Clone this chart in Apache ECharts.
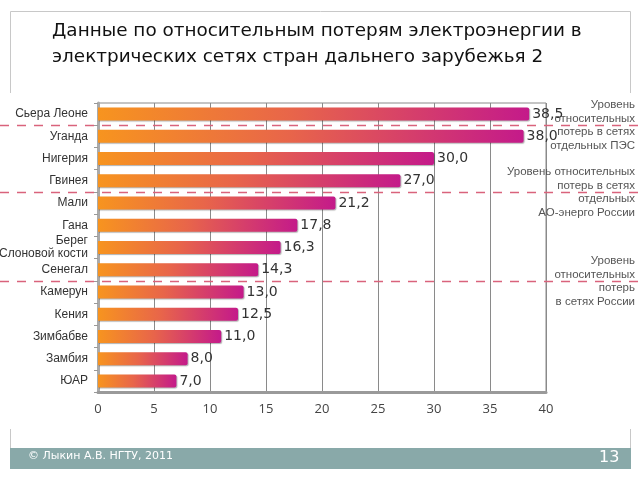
<!DOCTYPE html>
<html><head><meta charset="utf-8">
<script src="https://cdn.jsdelivr.net/npm/echarts@6/dist/echarts.min.js"></script>
<style>html,body{margin:0;padding:0;background:#fff}#c{width:640px;height:480px}</style>
</head><body><div id="c"></div>
<script>
const titleLines = ['Данные по относительным потерям электроэнергии в', 'электрических сетях стран дальнего зарубежья 2'];
const countries = ['Сьера Леоне','Уганда','Нигерия','Гвинея','Мали','Гана','Берег\nСлоновой кости','Сенегал','Камерун','Кения','Зимбабве','Замбия','ЮАР'];
const losses = [38.5, 38.0, 30.0, 27.0, 21.2, 17.8, 16.3, 14.3, 13.0, 12.5, 11.0, 8.0, 7.0];
const xTicks = [0, 5, 10, 15, 20, 25, 30, 35, 40];
const dividerAfter = ['Сьера Леоне', 'Гвинея', 'Сенегал'];
const notes = [
  'Уровень\nотносительных\nпотерь в сетях\nотдельных ПЭС',
  'Уровень относительных\nпотерь в сетях\nотдельных\nАО-энерго России',
  'Уровень\nотносительных\nпотерь\nв сетях России'
];
const footerText = '© Лыкин А.В. НГТУ, 2011';
const pageNo = '13';

const chart = echarts.init(document.getElementById('c'), null, {renderer: 'canvas'});
const option = {
  animation: false,
  backgroundColor: '#ffffff',
  grid: {left: 98, right: 94, top: 103, bottom: 88, containLabel: false, outerBoundsMode: 'none',
         show: true, borderColor: '#8a8a8a', borderWidth: 1, backgroundColor: 'transparent'},
  xAxis: {
    type: 'value', min: xTicks[0], max: xTicks[xTicks.length - 1], interval: xTicks[1] - xTicks[0],
    axisLine: {show: true, lineStyle: {color: '#9a9a9a', width: 3}},
    axisTick: {show: false},
    axisLabel: {color: '#444', fontSize: 13, fontFamily: 'Open Sans', margin: 11},
    splitLine: {show: true, lineStyle: {color: '#8a8a8a', width: 1}}
  },
  yAxis: {
    type: 'category', data: countries, inverse: true,
    axisLine: {show: true, lineStyle: {color: '#aaa', width: 3}},
    axisTick: {show: true, length: 4, lineStyle: {color: '#999'}},
    axisLabel: {color: '#333', fontSize: 12, fontFamily: 'Liberation Sans', margin: 10, lineHeight: 13}
  },
  series: [{
    type: 'bar', data: losses, barWidth: 13,
    itemStyle: {
      color: new echarts.graphic.LinearGradient(0, 0, 1, 0, [
        {offset: 0, color: '#f7941f'},
        {offset: 0.45, color: '#e8654a'},
        {offset: 1, color: '#c41a8a'}
      ]),
      borderRadius: [0, 2, 2, 0],
      shadowColor: 'rgba(0,0,0,0.3)', shadowOffsetX: 1, shadowOffsetY: 1, shadowBlur: 1
    },
    label: {
      show: true, position: 'right', distance: 3, color: '#333', fontSize: 14, fontFamily: 'DejaVu Sans',
      formatter: p => p.value.toFixed(1).replace('.', ',')
    }
  }]
};
chart.setOption(option);

function buildGraphics() {
  const g = [];
  g.push({type: 'rect', z: -10, shape: {x: 10.5, y: 11.5, width: 620, height: 440}, style: {fill: '#fff', stroke: '#c8c8c8', lineWidth: 1}, silent: true});
  g.push({type: 'rect', z: -9, shape: {x: 0, y: 93, width: 640, height: 336}, style: {fill: '#fff'}, silent: true});
  g.push({type: 'text', left: 52, top: 18, style: {text: titleLines.join('\n'), fill: '#111', font: '18.4px "DejaVu Sans"', lineHeight: 26}});
  g.push({type: 'rect', shape: {x: 10, y: 448, width: 621, height: 21}, style: {fill: '#89a9a9'}, silent: true});
  g.push({type: 'text', left: 28, top: 451, style: {text: footerText, fill: '#fff', font: '11px "DejaVu Sans"'}});
  g.push({type: 'text', left: 599, top: 450, style: {text: pageNo, fill: '#fff', font: '16px "DejaVu Sans"'}});
  dividerAfter.forEach((name, k) => {
    const i = countries.indexOf(name);
    const y1 = chart.convertToPixel({yAxisIndex: 0}, i);
    const y2 = chart.convertToPixel({yAxisIndex: 0}, i + 1);
    const y = Math.round((y1 + y2) / 2) + 0.5;
    g.push({type: 'line', z: 10, shape: {x1: 0, y1: y, x2: 640, y2: y}, style: {stroke: '#d9637c', lineWidth: 1.5, lineDash: [9, 8]}, silent: true});
    g.push({type: 'text', z: 11, x: 635, y: y, style: {text: notes[k], fill: '#555', font: '11.5px "Liberation Sans"', lineHeight: 13.5, align: 'right', verticalAlign: 'middle'}});
  });
  chart.setOption({graphic: g});
}
buildGraphics();
</script></body></html>
